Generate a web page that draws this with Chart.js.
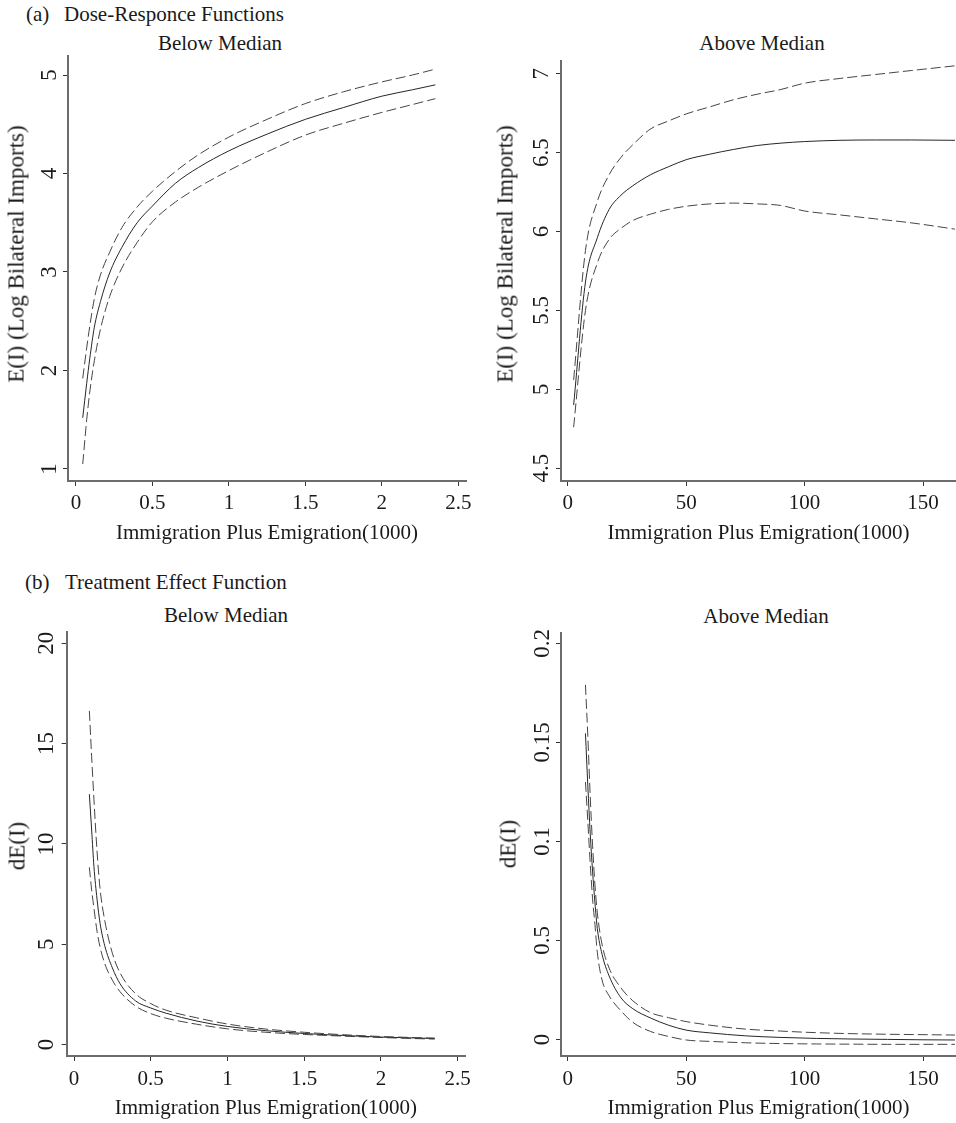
<!DOCTYPE html>
<html>
<head>
<meta charset="utf-8">
<title>Dose-Responce and Treatment Effect Functions</title>
<script src="https://cdn.jsdelivr.net/npm/chart.js@4.4.0/dist/chart.umd.min.js"></script>
<style>
  html, body { margin: 0; padding: 0; background: #fff; }
  #page {
    position: relative; width: 956px; height: 1123px; overflow: hidden;
    font-family: 'Liberation Serif', 'Times New Roman', serif; color: #1a1a1a;
  }
  .head, .sub { position: absolute; font-size: 21px; line-height: 25px; white-space: nowrap; }
  .head .tag { display: inline-block; }
  .sub { transform: translateX(-50%); }
  .ytitle {
    position: absolute; font-size: 23px; line-height: 23px; white-space: nowrap;
    transform: translate(-50%, -50%) rotate(-90deg); z-index: 2;
  }
  canvas { position: absolute; }
</style>
</head>
<body>
<div id="page">
  <div class="head" style="left:26px; top:2px"><span class="tag" style="width:38px">(a)</span>Dose-Responce Functions</div>
  <div class="head" style="left:25px; top:570px"><span class="tag" style="width:40px">(b)</span>Treatment Effect Function</div>
  <div class="sub" style="left:220px; top:31px">Below Median</div>
  <div class="sub" style="left:762px; top:31px">Above Median</div>
  <div class="sub" style="left:226px; top:603px">Below Median</div>
  <div class="sub" style="left:766px; top:604px">Above Median</div>
  <canvas id="doseBelow"></canvas>
  <canvas id="doseAbove"></canvas>
  <canvas id="effBelow"></canvas>
  <canvas id="effAbove"></canvas>
  <div class="ytitle" style="left:16px; top:254px">E(I) (Log Bilateral Imports)</div>
  <div class="ytitle" style="left:505px; top:254px">E(I) (Log Bilateral Imports)</div>
  <div class="ytitle" style="left:17px; top:846px">dE(I)</div>
  <div class="ytitle" style="left:508px; top:844px">dE(I)</div>
</div>
<script>
// (a) dose-response, below median
const doseBelowX = [0.044, 0.07, 0.09, 0.12, 0.16, 0.22, 0.3, 0.4, 0.5, 0.65, 0.8, 1.0, 1.25, 1.5, 1.75, 2.0, 2.2, 2.35];
const doseBelowFit = [1.52, 1.87, 2.12, 2.44, 2.70, 2.99, 3.25, 3.50, 3.67, 3.90, 4.06, 4.23, 4.40, 4.55, 4.67, 4.785, 4.85, 4.90];
const doseBelowUpper = [1.92, 2.23, 2.45, 2.73, 2.97, 3.20, 3.45, 3.66, 3.82, 4.02, 4.19, 4.37, 4.55, 4.71, 4.83, 4.93, 5.00, 5.06];
const doseBelowLower = [1.05, 1.50, 1.78, 2.10, 2.42, 2.75, 3.04, 3.30, 3.51, 3.71, 3.86, 4.03, 4.22, 4.39, 4.51, 4.62, 4.70, 4.76];

// (a) dose-response, above median
const doseAboveX = [2.5, 7.5, 12.5, 17.5, 22.5, 27.5, 35, 42.5, 50, 60, 70, 80, 90, 100, 115, 130, 145, 163.5];
const doseAboveFit = [4.90, 5.68, 5.96, 6.14, 6.23, 6.29, 6.36, 6.41, 6.455, 6.49, 6.52, 6.545, 6.56, 6.57, 6.578, 6.58, 6.58, 6.578];
const doseAboveUpper = [5.06, 5.88, 6.19, 6.36, 6.47, 6.55, 6.65, 6.70, 6.745, 6.79, 6.835, 6.87, 6.90, 6.94, 6.97, 6.995, 7.02, 7.05];
const doseAboveLower = [4.76, 5.50, 5.80, 5.95, 6.02, 6.07, 6.11, 6.14, 6.16, 6.175, 6.18, 6.175, 6.165, 6.13, 6.105, 6.08, 6.055, 6.015];

// (b) treatment effect, below median
const effBelowX = [0.1, 0.115, 0.13, 0.15, 0.17, 0.2, 0.25, 0.3, 0.4, 0.5, 0.6, 0.8, 1.0, 1.25, 1.5, 1.75, 2.0, 2.2, 2.35];
const effBelowFit = [12.48, 10.69, 8.86, 7.25, 6.04, 4.93, 3.82, 3.03, 2.18, 1.82, 1.56, 1.17, 0.90, 0.69, 0.55, 0.45, 0.37, 0.33, 0.30];
const effBelowUpper = [16.63, 14.34, 12.2, 9.65, 7.75, 6.2, 4.55, 3.57, 2.54, 2.04, 1.71, 1.33, 1.02, 0.77, 0.61, 0.49, 0.40, 0.35, 0.32];
const effBelowLower = [8.83, 7.70, 6.79, 5.65, 4.85, 4.04, 3.21, 2.63, 1.92, 1.54, 1.31, 1.01, 0.78, 0.61, 0.50, 0.42, 0.35, 0.30, 0.27];

// (b) treatment effect, above median
const effAboveX = [7.5, 8.5, 9.5, 10.5, 11.5, 12.5, 14.5, 17.5, 22.5, 27.5, 35, 42.5, 50, 60, 75, 90, 105, 120, 135, 150, 163.5];
const effAboveFit = [0.1545, 0.128, 0.104, 0.085, 0.069, 0.056, 0.043, 0.032, 0.021, 0.0155, 0.0108, 0.0072, 0.0047, 0.0033, 0.0018, 0.0010, 0.0005, 0.0002, 0.0, -0.0002, -0.0003];
const effAboveUpper = [0.179, 0.153, 0.123, 0.098, 0.078, 0.064, 0.048, 0.036, 0.026, 0.0195, 0.0135, 0.011, 0.009, 0.0072, 0.0052, 0.0042, 0.0034, 0.0029, 0.0026, 0.0024, 0.0022];
const effAboveLower = [0.130, 0.110, 0.089, 0.071, 0.058, 0.044, 0.030, 0.022, 0.0144, 0.0086, 0.0040, 0.0015, -0.0003, -0.0010, -0.0017, -0.0021, -0.0023, -0.0024, -0.0025, -0.0025, -0.0025];

// ticks
const belowXTicks = [0, 0.5, 1, 1.5, 2, 2.5];
const belowXLabels = ['0', '0.5', '1', '1.5', '2', '2.5'];
const aboveXTicks = [0, 50, 100, 150];
const aboveXLabels = ['0', '50', '100', '150'];
const doseBelowYTicks = [1, 2, 3, 4, 5];
const doseBelowYLabels = ['1', '2', '3', '4', '5'];
const doseAboveYTicks = [4.5, 5, 5.5, 6, 6.5, 7];
const doseAboveYLabels = ['4.5', '5', '5.5', '6', '6.5', '7'];
const effBelowYTicks = [0, 5, 10, 15, 20];
const effBelowYLabels = ['0', '5', '10', '15', '20'];
const effAboveYTicks = [0, 0.05, 0.1, 0.15, 0.2];
const effAboveYLabels = ['0', '0.5', '0.1', '0.15', '0.2'];

const xTitle = 'Immigration Plus Emigration(1000)';
const FONT = "'Liberation Serif', 'Times New Roman', serif";
const TEXT = '#1a1a1a';
const AXIS = '#6c6c6c';
const Y_FONT = 23;

Chart.defaults.font.family = FONT;
Chart.defaults.font.size = 21;
Chart.defaults.color = TEXT;

const measureCtx = document.createElement('canvas').getContext('2d');
measureCtx.font = Y_FONT + 'px ' + FONT;
function widest(labels) {
  return Math.max(...labels.map(l => measureCtx.measureText(l).width));
}

function series(xs, ys, dashed) {
  return {
    data: xs.map((x, i) => ({ x, y: ys[i] })),
    borderColor: dashed ? '#454545' : '#262626',
    borderWidth: 1,
    borderDash: dashed ? [10, 4] : [],
    pointRadius: 0,
    cubicInterpolationMode: 'monotone',
    fill: false
  };
}

function makePanel(p) {
  const canvas = document.getElementById(p.id);
  const [bx, by, bw, bh] = p.box;
  canvas.width = bw;
  canvas.height = bh;
  canvas.style.left = bx + 'px';
  canvas.style.top = by + 'px';
  const a = p.area;
  const yWidth = a.left - bx;
  const xHeight = by + bh - a.bottom;
  const yPad = p.labelOffset - 5 - widest(p.yLabels) / 2;

  new Chart(canvas, {
    type: 'line',
    data: {
      datasets: [
        series(p.x, p.upper, true),
        series(p.x, p.fit, false),
        series(p.x, p.lower, true)
      ]
    },
    options: {
      responsive: false,
      animation: false,
      layout: { padding: { top: a.top - by, right: bx + bw - a.right, left: 0, bottom: 0 } },
      plugins: { legend: { display: false }, tooltip: { enabled: false } },
      scales: {
        x: {
          type: 'linear',
          min: p.xMin,
          max: p.xMax,
          border: { display: true, color: AXIS, width: 2 },
          grid: { drawOnChartArea: false, drawTicks: true, tickLength: 5, tickColor: '#333', tickWidth: 1 },
          ticks: { autoSkip: false, maxRotation: 0, padding: p.xLabelPad, callback: (v, i) => p.xLabels[i] },
          title: { display: true, text: xTitle, padding: { top: 0, bottom: p.xTitlePad } },
          afterBuildTicks: s => { s.ticks = p.xTicks.map(v => ({ value: v })); },
          afterFit: s => { s.height = xHeight; s.paddingLeft = 0; s.paddingRight = 0; }
        },
        y: {
          type: 'linear',
          min: p.yMin,
          max: p.yMax,
          border: { display: true, color: AXIS, width: 2 },
          grid: { drawOnChartArea: false, drawTicks: true, tickLength: 5, tickColor: '#333', tickWidth: 1 },
          ticks: {
            autoSkip: false, minRotation: 90, maxRotation: 90, crossAlign: 'center',
            font: { size: Y_FONT }, padding: yPad, callback: (v, i) => p.yLabels[i]
          },
          title: { display: false },
          afterBuildTicks: s => { s.ticks = p.yTicks.map(v => ({ value: v })); },
          afterFit: s => { s.width = yWidth; s.paddingTop = 0; s.paddingBottom = 0; }
        }
      }
    }
  });
}

makePanel({
  id: 'doseBelow', box: [0, 0, 480, 550], area: { left: 68, top: 56, right: 466, bottom: 481 },
  x: doseBelowX, fit: doseBelowFit, upper: doseBelowUpper, lower: doseBelowLower,
  xMin: -0.0523, xMax: 2.5504, xTicks: belowXTicks, xLabels: belowXLabels,
  yMin: 0.878, yMax: 5.193, yTicks: doseBelowYTicks, yLabels: doseBelowYLabels,
  labelOffset: 18.5, xLabelPad: 4.7, xTitlePad: 4.4
});

makePanel({
  id: 'doseAbove', box: [480, 0, 476, 550], area: { left: 561, top: 61, right: 956, bottom: 481 },
  x: doseAboveX, fit: doseAboveFit, upper: doseAboveUpper, lower: doseAboveLower,
  xMin: -2.83, xMax: 163.93, xTicks: aboveXTicks, xLabels: aboveXLabels,
  yMin: 4.419, yMax: 7.0805, yTicks: doseAboveYTicks, yLabels: doseAboveYLabels,
  labelOffset: 19.3, xLabelPad: 4.7, xTitlePad: 4.4
});

makePanel({
  id: 'effBelow', box: [0, 560, 480, 563], area: { left: 66.7, top: 632, right: 465, bottom: 1056 },
  x: effBelowX, fit: effBelowFit, upper: effBelowUpper, lower: effBelowLower,
  xMin: -0.0476, xMax: 2.5476, xTicks: belowXTicks, xLabels: belowXLabels,
  yMin: -0.573, yMax: 20.563, yTicks: effBelowYTicks, yLabels: effBelowYLabels,
  labelOffset: 20, xLabelPad: 5.5, xTitlePad: 2.4
});

makePanel({
  id: 'effAbove', box: [480, 560, 476, 563], area: { left: 561, top: 633, right: 956, bottom: 1056 },
  x: effAboveX, fit: effAboveFit, upper: effAboveUpper, lower: effAboveLower,
  xMin: -2.83, xMax: 163.93, xTicks: aboveXTicks, xLabels: aboveXLabels,
  yMin: -0.00838, yMax: 0.2052, yTicks: effAboveYTicks, yLabels: effAboveYLabels,
  labelOffset: 18.3, xLabelPad: 5.5, xTitlePad: 2.4
});
</script>
</body>
</html>
